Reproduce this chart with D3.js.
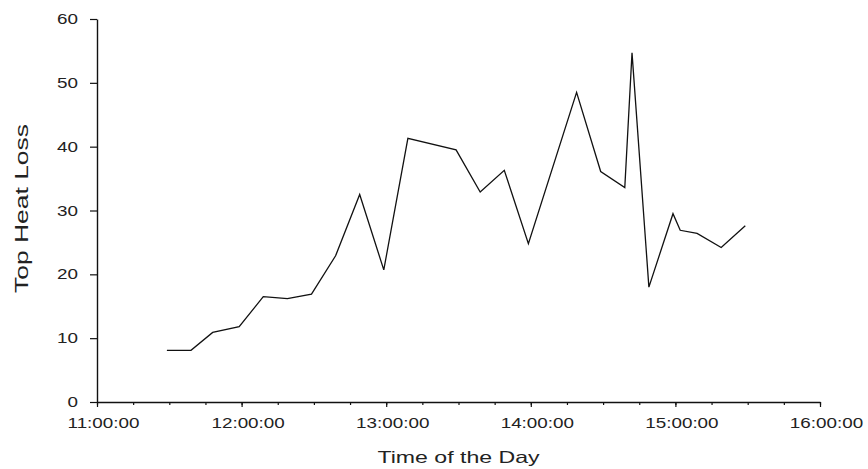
<!DOCTYPE html>
<html>
<head>
<meta charset="utf-8">
<script src="https://cdn.jsdelivr.net/npm/d3@7.9.0/dist/d3.min.js"></script>
<style>
  html, body { margin: 0; padding: 0; background: #fff; }
  svg { display: block; }
  text { font-family: "Liberation Sans", Arial, sans-serif; fill: #222; }
</style>
</head>
<body>
<svg id="chart" width="868" height="469"></svg>
<script>
// readings (time of day, heat loss)
const times = ['11:29', '11:39', '11:48', '11:59', '12:09', '12:19', '12:29', '12:39', '12:49', '12:59',
  '13:09', '13:29', '13:39', '13:49', '13:59', '14:19', '14:29', '14:39', '14:42', '14:49',
  '14:59', '15:02', '15:09', '15:19', '15:29'];
const heatLoss = [8.1, 8.1, 10.9, 11.8, 16.5, 16.2, 16.9, 22.9, 32.5, 20.7,
  41.3, 39.5, 32.9, 36.3, 24.8, 48.5, 36.1, 33.6, 54.7, 18.0,
  29.5, 26.9, 26.4, 24.2, 27.6];
const hourTicks = ['11:00', '12:00', '13:00', '14:00', '15:00', '16:00'];
const yTicks = [0, 10, 20, 30, 40, 50, 60];

const parse = d3.timeParse('%H:%M');
const data = times.map((t, i) => ({ t: parse(t), v: heatLoss[i] }));

const svg = d3.select('#chart');
const plotLeft = 97, plotRight = 820, plotTop = 19, plotBottom = 402;
const stretch = 1.3;

const x = d3.scaleTime()
  .domain([parse('11:00'), parse('16:00')])
  .range([plotLeft, plotRight]);
const y = d3.scaleLinear().domain([0, 60]).range([plotBottom, plotTop]);

// minor ticks every 15 minutes
svg.append('g')
  .attr('transform', `translate(0,${plotBottom})`)
  .call(d3.axisBottom(x).ticks(d3.timeMinute.every(15)).tickSize(3).tickFormat(''))
  .call((g) => g.select('.domain').remove())
  .call((g) => g.selectAll('line').attr('stroke', '#111').attr('stroke-width', 1.2));

// x axis, hourly labels
const xAxis = svg.append('g')
  .attr('transform', `translate(0,${plotBottom})`)
  .call(d3.axisBottom(x).tickValues(hourTicks.map(parse)).tickSize(5).tickSizeOuter(0)
    .tickFormat(d3.timeFormat('%H:%M:%S')));
xAxis.select('.domain').attr('stroke', '#111').attr('stroke-width', 1.4);
xAxis.selectAll('line').attr('stroke', '#111').attr('stroke-width', 1.2);
xAxis.selectAll('text')
  .attr('font-size', 14.5)
  .attr('fill', '#222')
  .attr('y', 16)
  .attr('dy', '0.71em')
  .attr('x', 6 / stretch)
  .attr('transform', `scale(${stretch},1)`);

// y axis
const yAxis = svg.append('g')
  .attr('transform', `translate(${plotLeft},0)`)
  .call(d3.axisLeft(y).tickValues(yTicks).tickSize(7).tickSizeOuter(0));
yAxis.select('.domain').attr('stroke', '#111').attr('stroke-width', 1.4);
yAxis.selectAll('line').attr('stroke', '#111').attr('stroke-width', 1.2);
yAxis.selectAll('text')
  .attr('font-size', 14.5)
  .attr('fill', '#222')
  .attr('x', -19 / stretch)
  .attr('transform', `scale(${stretch},1)`);

// the series
const line = d3.line().x((d) => x(d.t)).y((d) => y(d.v));
svg.append('path')
  .datum(data)
  .attr('d', line)
  .attr('fill', 'none')
  .attr('stroke', '#111')
  .attr('stroke-width', 1.3)
  .attr('stroke-linejoin', 'miter');

// axis titles
svg.append('text')
  .attr('transform', `translate(${(plotLeft + plotRight) / 2},463) scale(1.4,1)`)
  .attr('text-anchor', 'middle')
  .attr('font-size', 16.5)
  .text('Time of the Day');

svg.append('text')
  .attr('transform', `translate(28,${(plotTop + plotBottom) / 2 - 2}) rotate(-90) scale(1.47,1)`)
  .attr('text-anchor', 'middle')
  .attr('font-size', 18)
  .text('Top Heat Loss');
</script>
</body>
</html>
